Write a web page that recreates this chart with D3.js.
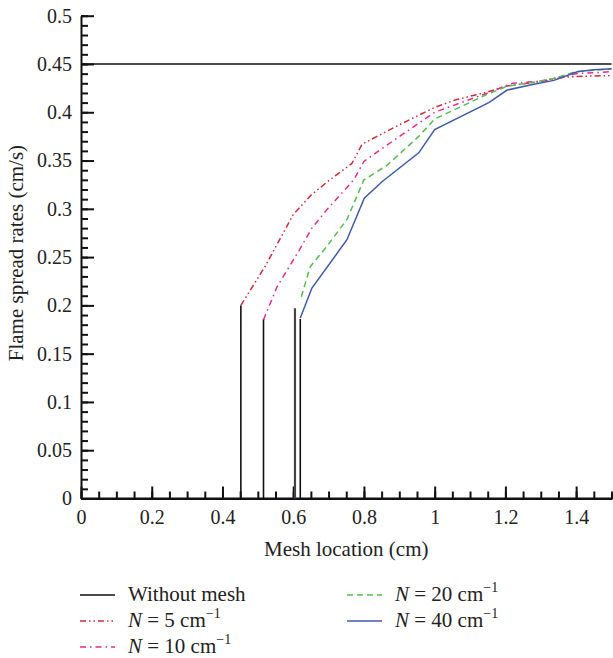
<!DOCTYPE html>
<html><head><meta charset="utf-8">
<script src="https://cdn.jsdelivr.net/npm/d3@7"></script>
<style>body{margin:0;background:#fff}svg{display:block}text{font-family:"Liberation Serif",serif;fill:#222}</style>
</head><body><svg id="c" width="613" height="658"></svg>
<script>
// ---- data ----
const xMajorTicks = [0, 0.2, 0.4, 0.6, 0.8, 1, 1.2, 1.4];
const xTickLabels = ["0", "0.2", "0.4", "0.6", "0.8", "1", "1.2", "1.4"];
const yMajorTicks = [0, 0.05, 0.1, 0.15, 0.2, 0.25, 0.3, 0.35, 0.4, 0.45, 0.5];
const yTickLabels = ["0", "0.05", "0.1", "0.15", "0.2", "0.25", "0.3", "0.35", "0.4", "0.45", "0.5"];
const withoutMeshRate = 0.45;
const meshX = [0.452, 0.516, 0.605, 0.62];
const meshTop = [0.200, 0.186, 0.197, 0.186];
const n5X = [0.452, 0.52, 0.6, 0.65, 0.7, 0.766, 0.795, 0.9, 1.0, 1.06, 1.15, 1.2, 1.3, 1.35, 1.4, 1.5];
const n5Y = [0.200, 0.240, 0.294, 0.314, 0.329, 0.347, 0.367, 0.387, 0.405, 0.413, 0.421, 0.427, 0.432, 0.436, 0.437, 0.438];
const n10X = [0.516, 0.554, 0.62, 0.653, 0.695, 0.771, 0.8, 0.865, 1.0, 1.15, 1.22, 1.33, 1.4, 1.5];
const n10Y = [0.185, 0.219, 0.259, 0.280, 0.299, 0.330, 0.349, 0.366, 0.400, 0.420, 0.430, 0.433, 0.440, 0.442];
const n20X = [0.623, 0.648, 0.695, 0.752, 0.8, 0.865, 0.955, 1.0, 1.145, 1.205, 1.28, 1.336, 1.4, 1.5];
const n20Y = [0.209, 0.240, 0.261, 0.289, 0.330, 0.345, 0.375, 0.393, 0.418, 0.427, 0.431, 0.435, 0.442, 0.445];
const n40X = [0.62, 0.653, 0.752, 0.801, 0.851, 0.955, 1.0, 1.153, 1.205, 1.28, 1.337, 1.403, 1.45, 1.5];
const n40Y = [0.187, 0.218, 0.268, 0.311, 0.328, 0.358, 0.382, 0.410, 0.423, 0.429, 0.433, 0.442, 0.444, 0.445];
const seriesNames = ["Without mesh", "N = 5", "N = 10", "N = 20", "N = 40"];

// ---- scales ----
const svg = d3.select("#c");
const x = d3.scaleLinear().domain([0, 1.5]).range([81, 611.5]);
const y = d3.scaleLinear().domain([0, 0.5]).range([498.5, 15.7]);

// ---- axes ----
function styleAxis(g) {
  g.selectAll("path.domain").attr("stroke", "#111").attr("stroke-width", 2);
  g.selectAll(".tick line").attr("stroke", "#111").attr("stroke-width", 2);
  g.selectAll(".tick text").style("font-family", "Liberation Serif").style("font-size", "20px").attr("fill", "#222");
}
// minor ticks
svg.append("g").attr("transform", "translate(81,0)")
  .call(d3.axisLeft(y).tickValues(d3.range(0, 51).map(d => d / 100)).tickSizeInner(-7).tickSizeOuter(0).tickFormat(""))
  .call(styleAxis);
svg.append("g").attr("transform", "translate(0,498.5)")
  .call(d3.axisBottom(x).tickValues(d3.range(0, 31).map(d => d * 0.05)).tickSizeInner(-7).tickSizeOuter(0).tickFormat(""))
  .call(styleAxis);
// major ticks
svg.append("g").attr("transform", "translate(81,0)")
  .call(d3.axisLeft(y).tickValues(yMajorTicks).tickSizeInner(-13).tickSizeOuter(0).tickPadding(9)
    .tickFormat((d, i) => yTickLabels[i]))
  .call(styleAxis)
  .call(g => g.select("path.domain").remove());
svg.append("g").attr("transform", "translate(0,498.5)")
  .call(d3.axisBottom(x).tickValues(xMajorTicks).tickSizeInner(-12).tickSizeOuter(0).tickPadding(11)
    .tickFormat((d, i) => xTickLabels[i]))
  .call(styleAxis)
  .call(g => g.select("path.domain").remove());
// extend x axis line to the edge
svg.append("line").attr("x1", x(0)).attr("x2", 613).attr("y1", y(0)).attr("y2", y(0)).attr("stroke", "#111").attr("stroke-width", 2);

// axis titles
svg.append("text").attr("x", (x(0) + x(1.5)) / 2).attr("y", 556).attr("text-anchor", "middle")
  .style("font-size", "21px").text("Mesh location (cm)");
svg.append("text").attr("transform", `translate(23,${(y(0) + y(0.5)) / 2 - 4}) rotate(-90)`).attr("text-anchor", "middle")
  .style("font-size", "21px").text("Flame spread rates (cm/s)");

// ---- marks ----
const line = d3.line().x(d => x(d[0])).y(d => y(d[1]));
const zip = (a, b) => a.map((v, i) => [v, b[i]]);
const styles = [
  { color: "#111", dash: null, w: 1.4 },
  { color: "#d42a3c", dash: "6,3,1.5,3,1.5,3", w: 1.5 },
  { color: "#ec2a86", dash: "6,4,1.5,4", w: 1.5 },
  { color: "#52bd4f", dash: "6,4", w: 1.5 },
  { color: "#3e5aab", dash: null, w: 1.5 }
];
// without mesh
svg.append("path").datum([[0, withoutMeshRate], [1.5, withoutMeshRate]]).attr("d", line)
  .attr("fill", "none").attr("stroke", styles[0].color).attr("stroke-width", styles[0].w);
// mesh vertical lines
meshX.forEach((mx, i) => {
  svg.append("line").attr("x1", x(mx)).attr("x2", x(mx)).attr("y1", y(0)).attr("y2", y(meshTop[i]))
    .attr("stroke", i === 2 ? "#444" : "#111").attr("stroke-width", i === 2 ? 2.2 : 1.6);
});
const curves = [zip(n5X, n5Y), zip(n10X, n10Y), zip(n20X, n20Y), zip(n40X, n40Y)];
curves.forEach((c, i) => {
  const s = styles[i + 1];
  svg.append("path").datum(c).attr("d", line).attr("fill", "none")
    .attr("stroke", s.color).attr("stroke-width", s.w).attr("stroke-dasharray", s.dash);
});

// ---- legend ----
const legendPos = [[80, 595], [80, 621], [80, 647], [347, 595], [347, 621]];
seriesNames.forEach((name, i) => {
  const [lx, ly] = legendPos[i];
  const s = styles[i];
  svg.append("line").attr("x1", lx).attr("x2", lx + 35).attr("y1", ly).attr("y2", ly)
    .attr("stroke", s.color).attr("stroke-width", s.w).attr("stroke-dasharray", s.dash);
  const t = svg.append("text").attr("x", lx + 48).attr("y", ly + 6).style("font-size", "21px");
  if (i === 0) { t.text(name); return; }
  const val = name.split("=")[1].trim();
  t.append("tspan").style("font-style", "italic").text("N");
  t.append("tspan").text(" = " + val + " cm");
  t.append("tspan").attr("dy", -9).style("font-size", "14px").text("\u22121");
});
</script></body></html>
